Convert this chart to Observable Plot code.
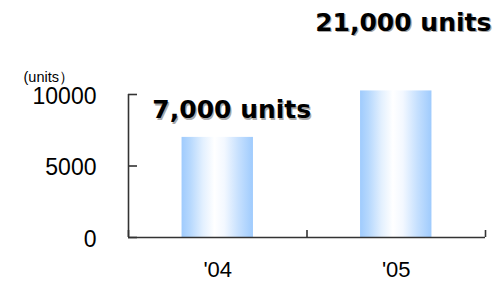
<!DOCTYPE html>
<html>
<head>
<meta charset="utf-8">
<script src="https://cdn.jsdelivr.net/npm/d3@7"></script>
<script src="https://cdn.jsdelivr.net/npm/@observablehq/plot@0.6"></script>
<style>
  html, body { margin: 0; padding: 0; background: #fff; }
  #chart { width: 501px; height: 282px; }
</style>
</head>
<body>
<div id="chart"></div>
<script>
// data
const years = ["'04", "'05"];
const barValues = [7000, 10250];           // drawn bar heights (the '05 bar is cut off above the axis top)
const barLabels = ["7,000 units", "21,000 units"];
const yTicks = [0, 5000, 10000];
const unitLabel = "(units\uFF09";

const rows = years.map((y, i) => ({year: y, i, value: barValues[i], label: barLabels[i]}));

const axisColor = "#333";
const labelFont = "DejaVu Sans, sans-serif";

const shadowText = (data, opts) => [
  Plot.text(data, {...opts, dx: (opts.dx || 0) + 1.2, dy: (opts.dy || 0) + 1.2, fill: "#a8a8a8"}),
  Plot.text(data, {...opts, fill: "#000"})
];

const chart = Plot.plot({
  width: 501,
  height: 282,
  marginLeft: 128,
  marginRight: 16,
  marginTop: 94,
  marginBottom: 45,
  style: {fontFamily: "Liberation Sans, Arial, sans-serif", background: "#fff", overflow: "visible"},
  x: {domain: [0, years.length], axis: null},
  y: {domain: [0, 10000], axis: null},
  marks: [
    Plot.rectY(rows, {x1: d => d.i + 0.3, x2: d => d.i + 0.7, y: "value", fill: "url(#barGrad)"}),
    // y axis
    Plot.ruleX([0], {y1: 0, y2: 10000, stroke: axisColor, strokeWidth: 1.6}),
    Plot.axisY({ticks: yTicks, label: null, tickSize: -9, tickFormat: () => "", stroke: axisColor, strokeWidth: 1.6}),
    Plot.axisY({ticks: yTicks, label: null, tickSize: 0, tickPadding: 32, tickFormat: d => String(d), fontSize: 23, dy: 2, fill: "#000"}),
    // x axis
    Plot.ruleY([0], {stroke: axisColor, strokeWidth: 1.6}),
    Plot.axisX({ticks: d3.range(years.length + 1), label: null, tickSize: -7, tickFormat: () => "", stroke: axisColor, strokeWidth: 1.6}),
    Plot.text(rows, {x: d => d.i + 0.5, y: 0, text: "year", dy: 32, fontSize: 22, fill: "#000"}),
    // unit label
    Plot.text([unitLabel], {frameAnchor: "top-left", text: d => d, dx: -105, dy: -23, textAnchor: "start", fontSize: 14.5, fill: "#000"}),
    // value labels
    ...shadowText([rows[0]], {x: d => d.i + 0.5, y: "value", text: "label", dx: 14, dy: -27, fontSize: 25, fontWeight: "bold", fontFamily: labelFont}),
    ...shadowText([rows[1]], {x: d => d.i + 0.5, y: "value", text: "label", dx: 7, dy: -68, fontSize: 25, fontWeight: "bold", fontFamily: labelFont})
  ]
});

// gradient definition for the bars
const svg = d3.select(chart);
const grad = svg.insert("defs", ":first-child").append("linearGradient")
  .attr("id", "barGrad").attr("x1", "0").attr("x2", "1").attr("y1", "0").attr("y2", "0");
[[0, "#9fcbfd"], [0.12, "#b6d8fd"], [0.3, "#e3f0fe"], [0.46, "#ffffff"], [0.6, "#f3f8ff"], [0.8, "#c6e0fe"], [1, "#9fcbfd"]]
  .forEach(([o, c]) => grad.append("stop").attr("offset", o).attr("stop-color", c));

document.getElementById("chart").appendChild(chart);
</script>
</body>
</html>
